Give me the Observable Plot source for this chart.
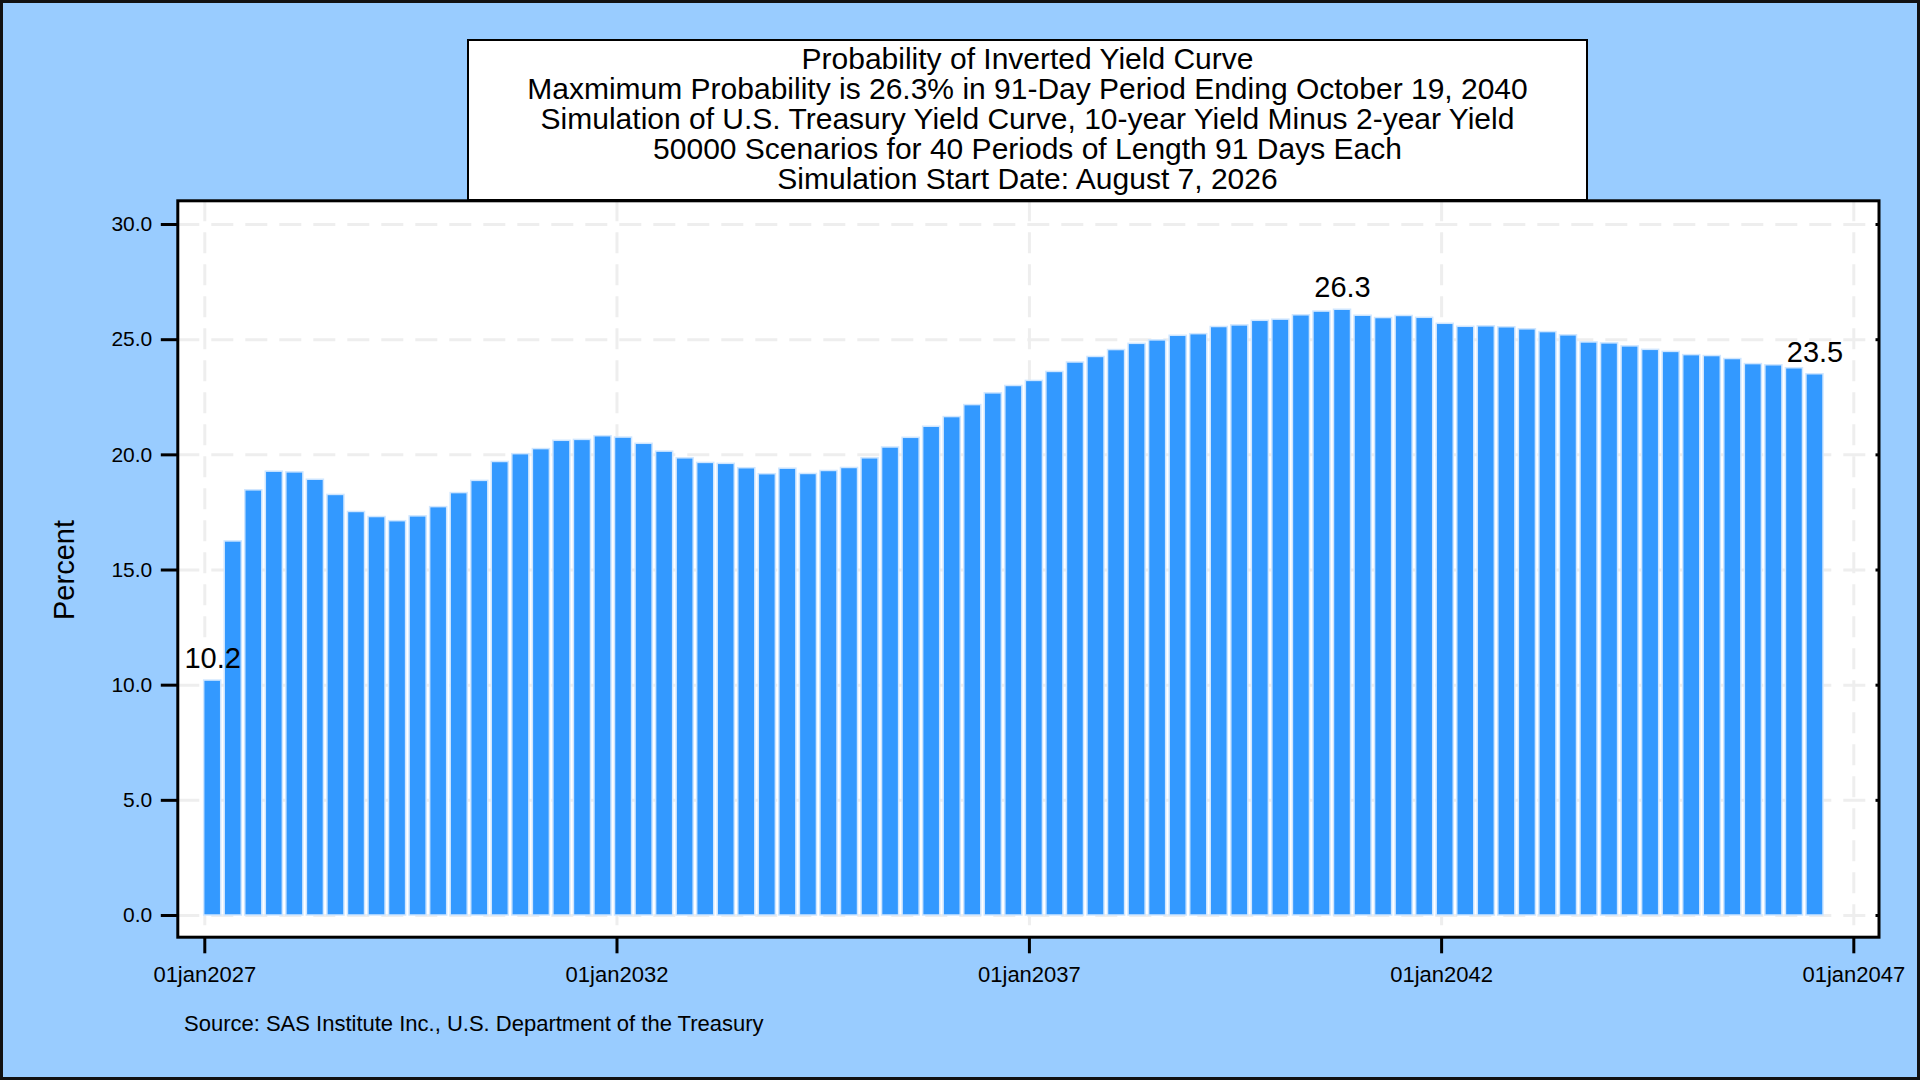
<!DOCTYPE html>
<html>
<head>
<meta charset="utf-8">
<script src="https://cdn.jsdelivr.net/npm/d3@7"></script>
<script src="https://cdn.jsdelivr.net/npm/@observablehq/plot@0.6"></script>
<style>
  html, body { margin: 0; padding: 0; }
  body { width: 1920px; height: 1080px; overflow: hidden; font-family: "Liberation Sans", Arial, sans-serif; }
  #page { position: relative; width: 1920px; height: 1080px; background: #99CCFF; box-sizing: border-box; }
  #border { position: absolute; left: 0; top: 0; width: 1920px; height: 1080px; box-sizing: border-box; border: 3px solid #111; pointer-events: none; z-index: 5; }
  #chart { position: absolute; left: 0; top: 0; }
  #title { position: absolute; left: 467px; top: 39px; width: 1121px; height: 162px; box-sizing: border-box;
           border: 2.5px solid #000; background: #fff; text-align: center; font-size: 30px; line-height: 30px;
           padding-top: 3px; color: #000; z-index: 3; white-space: nowrap; }
  #ylabel { position: absolute; left: 63.5px; top: 569.5px; transform: translate(-50%, -50%) rotate(-90deg);
            font-size: 29px; line-height: 29px; white-space: nowrap; color: #000; }
  #source { position: absolute; left: 184px; top: 1012.5px; font-size: 22px; line-height: 22px; color: #000; white-space: nowrap; }
</style>
</head>
<body>
<div id="page">
  <div id="chart"></div>
  <div id="title"></div>
  <div id="ylabel"></div>
  <div id="source"></div>
  <div id="border"></div>
</div>
<script>
// ---- Data ----
const titleLines = [
  "Probability of Inverted Yield Curve",
  "Maxmimum Probability is 26.3% in 91-Day Period Ending October 19, 2040",
  "Simulation of U.S. Treasury Yield Curve, 10-year Yield Minus 2-year Yield",
  "50000 Scenarios for 40 Periods of Length 91 Days Each",
  "Simulation Start Date: August 7, 2026"
];
const yAxisLabel = "Percent";
const sourceText = "Source: SAS Institute Inc., U.S. Department of the Treasury";

// first period end date and period length (days)
const firstPeriodEnd = "2027-02-05";
const periodDays = 91;

// probability of inverted curve (%) per 91-day period
const probability = [
  10.2, 16.24, 18.46, 19.27, 19.24, 18.92, 18.26, 17.52, 17.30, 17.12,
  17.33, 17.73, 18.34, 18.87, 19.69, 20.03, 20.25, 20.61, 20.65, 20.81,
  20.75, 20.48, 20.14, 19.85, 19.65, 19.61, 19.42, 19.16, 19.40, 19.17,
  19.30, 19.43, 19.85, 20.32, 20.74, 21.22, 21.64, 22.16, 22.67, 22.99,
  23.21, 23.60, 24.01, 24.25, 24.55, 24.82, 24.97, 25.17, 25.24, 25.55,
  25.62, 25.82, 25.87, 26.06, 26.22, 26.3, 26.04, 25.94, 26.03, 25.95,
  25.69, 25.56, 25.58, 25.54, 25.45, 25.33, 25.19, 24.88, 24.84, 24.71,
  24.56, 24.47, 24.33, 24.29, 24.16, 23.94, 23.89, 23.76, 23.5
];

const yTicks = [0, 5, 10, 15, 20, 25, 30];
const xTickDates = ["2027-01-01", "2032-01-01", "2037-01-01", "2042-01-01", "2047-01-01"];
const xDomain = ["2026-09-03T10:00Z", "2047-04-22T14:00Z"];
const yDomain = [-0.942, 31.03];

// ---- Build ----
const DAY = 864e5;
const start = new Date(firstPeriodEnd + "T00:00Z");
const rows = probability.map((v, i) => ({
  date: new Date(+start + i * periodDays * DAY),
  value: v
}));
rows.forEach(r => {
  r.x1 = new Date(+r.date - periodDays / 2 * DAY);
  r.x2 = new Date(+r.date + periodDays / 2 * DAY);
});
const maxRow = rows.reduce((a, b) => (b.value > a.value ? b : a));
const labelRows = [rows[0], maxRow, rows[rows.length - 1]];
const xTicks = xTickDates.map(s => new Date(s + "T00:00Z"));
const fmtX = d => d3.utcFormat("%d%b%Y")(d).toLowerCase();

const chart = Plot.plot({
  width: 1920,
  height: 1080,
  marginLeft: 177.3,
  marginRight: 41.5,
  marginTop: 200.3,
  marginBottom: 143.3,
  style: { background: "transparent", fontFamily: "'Liberation Sans', Arial, sans-serif", color: "#000", overflow: "visible" },
  x: { type: "utc", domain: xDomain.map(s => new Date(s)) },
  y: { domain: yDomain },
  marks: [
    Plot.frame({ fill: "#fff", stroke: null }),
    Plot.gridX(xTicks, { stroke: "#EEEEEE", strokeOpacity: 1, strokeWidth: 3, strokeDasharray: "21,11" }),
    Plot.gridY(yTicks, { stroke: "#EEEEEE", strokeOpacity: 1, strokeWidth: 3, strokeDasharray: "22,12" }),
    Plot.rectY(rows, {
      x1: "x1", x2: "x2", y1: 0, y2: "value",
      fill: "#3399FF", stroke: "#CFE6FF", strokeWidth: 1.5,
      insetLeft: 1.75, insetRight: 1.75
    }),
    Plot.text(labelRows, {
      x: "date", y: "value", text: d => d.value.toFixed(1),
      lineAnchor: "bottom", dy: -12.5, fontSize: 29, fill: "#000"
    }),
    Plot.axisY(yTicks, { anchor: "left", tickSize: 16.5, tickPadding: 9, tickFormat: d3.format(".1f"), fontSize: 21, strokeWidth: 3, label: null }),
    Plot.axisY(yTicks, { anchor: "right", tickSize: -4, tickFormat: () => "", strokeWidth: 3, label: null }),
    Plot.axisX(xTicks, { anchor: "bottom", tickSize: 16.6, tickPadding: 13, tickFormat: fmtX, fontSize: 22, strokeWidth: 3, label: null }),
    Plot.frame({ stroke: "#000", strokeWidth: 3 })
  ]
});
document.getElementById("chart").appendChild(chart);

document.getElementById("title").innerHTML = titleLines.map(t => `<div>${t}</div>`).join("");
document.getElementById("ylabel").textContent = yAxisLabel;
document.getElementById("source").textContent = sourceText;
</script>
</body>
</html>
